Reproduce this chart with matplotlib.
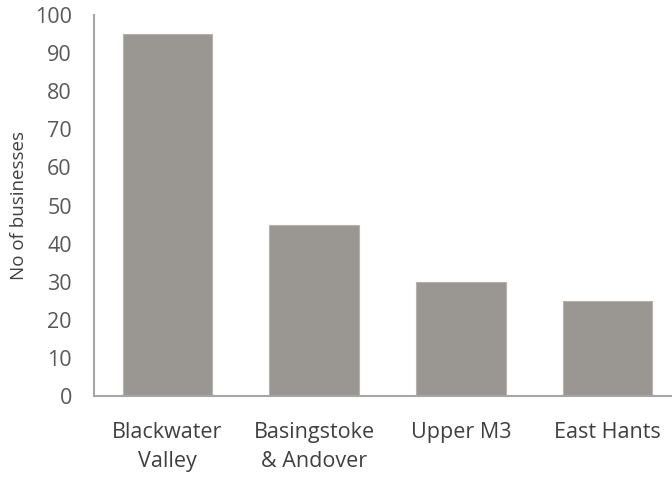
import matplotlib.pyplot as plt

# Businesses by area
areas = ['Blackwater\nValley', 'Basingstoke\n& Andover', 'Upper M3', 'East Hants']
counts = [95, 45, 30, 25]

plt.rcParams['font.family'] = ['Open Sans', 'DejaVu Sans']

fig = plt.figure(figsize=(6.72, 4.78), dpi=100)
ax = fig.add_axes([94 / 672, 82 / 478, 587 / 672, 381 / 478])

ax.bar(range(len(areas)), counts, width=0.61, color='#9A9793',
       edgecolor='#B4B1AE', linewidth=0.8)

ax.set_xlim(-0.5, len(areas) - 0.5)
ax.set_ylim(0, 100)
ax.set_yticks(range(0, 101, 10))
ax.set_xticks(range(len(areas)))
ax.set_xticklabels(areas, fontsize=15.5, color='#404040', linespacing=1.5)
ax.tick_params(axis='y', labelsize=15.5, labelcolor='#595959', length=0, pad=16)
ax.tick_params(axis='x', length=0, pad=19)
ax.set_ylabel('No of businesses', fontsize=13.5, color='#404040', labelpad=5)

for side in ['top', 'right']:
    ax.spines[side].set_visible(False)
for side in ['left', 'bottom']:
    ax.spines[side].set_color('#A6A6A6')
    ax.spines[side].set_linewidth(1.5)

fig.savefig('out.png', dpi=100)
